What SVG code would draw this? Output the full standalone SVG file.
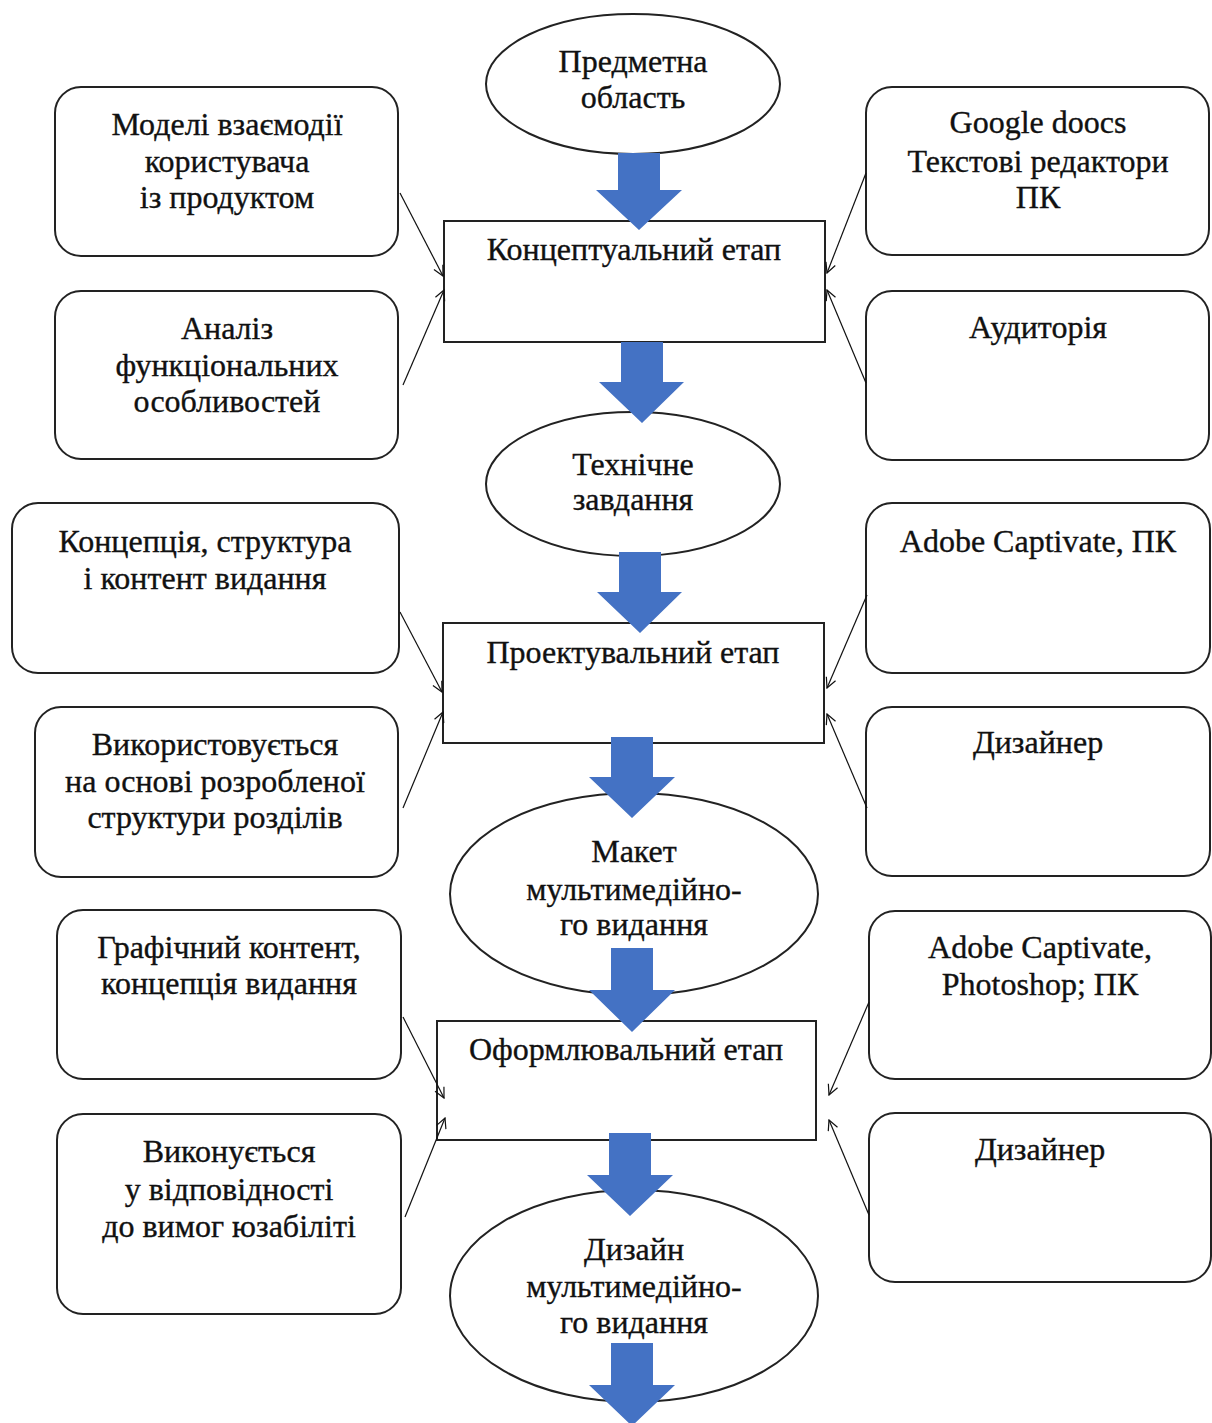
<svg xmlns="http://www.w3.org/2000/svg" width="1212" height="1423" viewBox="0 0 1212 1423">
<defs>
<style>
.rb{fill:#fff;stroke:#222;stroke-width:2}
.st{fill:#fff;stroke:#222;stroke-width:2}
.el{fill:#fff;stroke:#222;stroke-width:2}
text{font-family:"Liberation Serif","Times New Roman",serif;font-size:32px;fill:#111;stroke:#111;stroke-width:0.35;text-anchor:middle}
.ln{stroke:#111;stroke-width:1.2;fill:none;marker-end:url(#ah)}
.ba{fill:#4472C4}
</style>
<marker id="ah" viewBox="0 0 12 12" refX="11" refY="6" markerWidth="12" markerHeight="12" markerUnits="userSpaceOnUse" orient="auto">
<path d="M1,1 L11,6 L1,11" fill="none" stroke="#111" stroke-width="1.2"/>
</marker>
</defs>

<g id="e1"><ellipse class="el" cx="633" cy="84" rx="147" ry="70"/><text x="633" y="72">Предметна</text><text x="633" y="108">область</text></g>
<g id="s1"><rect class="st" x="444" y="221" width="381" height="121"/><text x="634" y="260">Концептуальний етап</text></g>
<g id="e2"><ellipse class="el" cx="633" cy="484" rx="147" ry="72"/><text x="633" y="475">Технічне</text><text x="633" y="510">завдання</text></g>
<g id="s2"><rect class="st" x="443" y="623" width="381" height="120"/><text x="633" y="663">Проектувальний етап</text></g>
<g id="e3"><ellipse class="el" cx="634" cy="894" rx="184" ry="101"/><text x="634" y="862">Макет</text><text x="634" y="900">мультимедійно-</text><text x="634" y="935">го видання</text></g>
<g id="s3"><rect class="st" x="437" y="1021" width="379" height="119"/><text x="626" y="1060">Оформлювальний етап</text></g>
<g id="e4"><ellipse class="el" cx="634" cy="1296" rx="184" ry="106"/><text x="634" y="1260">Дизайн</text><text x="634" y="1297">мультимедійно-</text><text x="634" y="1333">го видання</text></g>

<g id="l1"><rect class="rb" x="55" y="87" width="343" height="169" rx="26"/><text x="227" y="135">Моделі взаємодії</text><text x="227" y="172">користувача</text><text x="227" y="208">із продуктом</text></g>
<g id="l2"><rect class="rb" x="55" y="291" width="343" height="168" rx="26"/><text x="227" y="339">Аналіз</text><text x="227" y="376">функціональних</text><text x="227" y="412">особливостей</text></g>
<g id="r1"><rect class="rb" x="866" y="87" width="343" height="168" rx="26"/><text x="1038" y="133">Google doocs</text><text x="1038" y="172">Текстові редактори</text><text x="1038" y="208">ПК</text></g>
<g id="r2"><rect class="rb" x="866" y="291" width="343" height="169" rx="26"/><text x="1038" y="338">Аудиторія</text></g>

<g id="l3"><rect class="rb" x="12" y="503" width="387" height="170" rx="26"/><text x="205" y="552">Концепція, структура</text><text x="205" y="589">і контент видання</text></g>
<g id="l4"><rect class="rb" x="35" y="707" width="363" height="170" rx="26"/><text x="215" y="755">Використовується</text><text x="215" y="792">на основі розробленої</text><text x="215" y="828">структури розділів</text></g>
<g id="r3"><rect class="rb" x="866" y="503" width="344" height="170" rx="26"/><text x="1038" y="552">Adobe Captivate, ПК</text></g>
<g id="r4"><rect class="rb" x="866" y="707" width="344" height="169" rx="26"/><text x="1038" y="753">Дизайнер</text></g>

<g id="l5"><rect class="rb" x="57" y="910" width="344" height="169" rx="26"/><text x="229" y="958">Графічний контент,</text><text x="229" y="994">концепція видання</text></g>
<g id="l6"><rect class="rb" x="57" y="1114" width="344" height="200" rx="26"/><text x="229" y="1162">Виконується</text><text x="229" y="1200">у відповідності</text><text x="229" y="1237">до вимог юзабіліті</text></g>
<g id="r5"><rect class="rb" x="869" y="911" width="342" height="168" rx="26"/><text x="1040" y="958">Adobe Captivate,</text><text x="1040" y="995">Photoshop; ПК</text></g>
<g id="r6"><rect class="rb" x="869" y="1113" width="342" height="169" rx="26"/><text x="1040" y="1160">Дизайнер</text></g>

<g id="connectors">
<line class="ln" x1="400" y1="193" x2="443" y2="276"/>
<line class="ln" x1="403" y1="385" x2="444" y2="290"/>
<line class="ln" x1="866" y1="173" x2="827" y2="273"/>
<line class="ln" x1="866" y1="383" x2="827" y2="290"/>
<line class="ln" x1="400" y1="612" x2="442" y2="692"/>
<line class="ln" x1="403" y1="808" x2="443" y2="712"/>
<line class="ln" x1="867" y1="595" x2="827" y2="688"/>
<line class="ln" x1="867" y1="808" x2="827" y2="714"/>
<line class="ln" x1="403" y1="1017" x2="444" y2="1098"/>
<line class="ln" x1="405" y1="1217" x2="445" y2="1118"/>
<line class="ln" x1="869" y1="1002" x2="829" y2="1095"/>
<line class="ln" x1="869" y1="1215" x2="829" y2="1120"/>
<polygon class="ba" points="618,153 660,153 660,190 682,190 639,230 596,190 618,190"/>
<polygon class="ba" points="621,342 663,342 663,382 684,382 642,423 599,382 621,382"/>
<polygon class="ba" points="619,552 661,552 661,592 682,592 640,633 597,592 619,592"/>
<polygon class="ba" points="611,737 653,737 653,777 675,777 632,818 589,777 611,777"/>
<polygon class="ba" points="611,948 653,948 653,990 675,990 632,1032 589,990 611,990"/>
<polygon class="ba" points="609,1133 651,1133 651,1175 673,1175 630,1216 587,1175 609,1175"/>
<polygon class="ba" points="611,1343 653,1343 653,1385 675,1385 632,1426 589,1385 611,1385"/>
</g>
</svg>
